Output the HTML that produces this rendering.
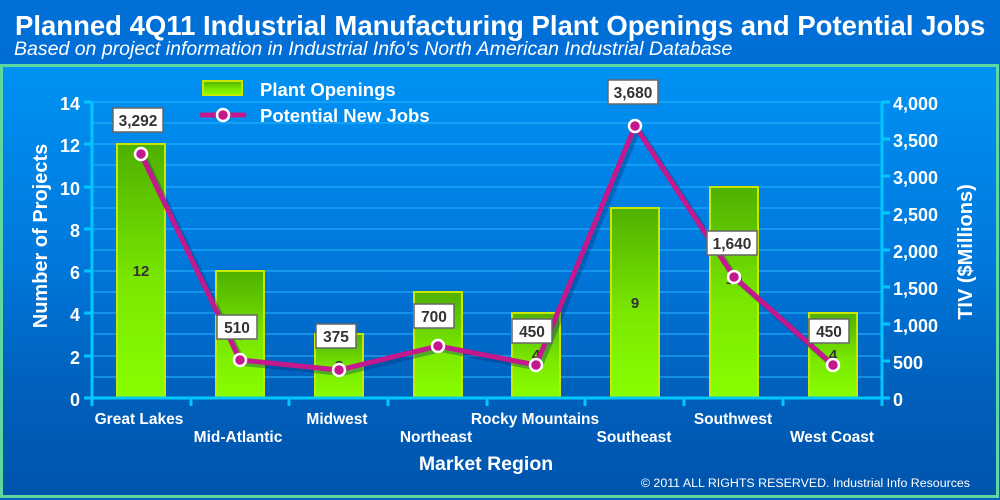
<!DOCTYPE html>
<html><head><meta charset="utf-8"><style>
html,body{margin:0;padding:0;width:1000px;height:500px;overflow:hidden;background:#0058b0}
svg{display:block;font-family:"Liberation Sans",Arial,sans-serif}
</style></head><body>
<svg width="1000" height="500" viewBox="0 0 1000 500" xmlns="http://www.w3.org/2000/svg">
<defs>
<linearGradient id="hd" x1="0" y1="0" x2="0" y2="1"><stop offset="0" stop-color="#0070d8"/><stop offset="1" stop-color="#0060c4"/></linearGradient>
<linearGradient id="bg" x1="0" y1="0" x2="0" y2="1"><stop offset="0" stop-color="#0092f4"/><stop offset="0.45" stop-color="#0078dc"/><stop offset="0.75" stop-color="#0060bc"/><stop offset="1" stop-color="#0054ac"/></linearGradient>
<linearGradient id="bar" x1="0" y1="0" x2="0" y2="1"><stop offset="0" stop-color="#4fb000"/><stop offset="0.55" stop-color="#7ae800"/><stop offset="1" stop-color="#88ff00"/></linearGradient>
</defs>
<rect width="1000" height="500" fill="url(#hd)"/>
<rect x="1.5" y="65.5" width="996" height="431" fill="url(#bg)" stroke="#5fd8a0" stroke-width="3"/>
<text x="15" y="35" font-size="27.5" font-weight="bold" fill="#fff">Planned 4Q11 Industrial Manufacturing Plant Openings and Potential Jobs</text>
<text x="14" y="55" font-size="19.5" font-style="italic" fill="#fff">Based on project information in Industrial Info's North American Industrial Database</text>
<g stroke="#29b8ff" stroke-width="1.3" opacity="0.8">
<line x1="92" x2="882" y1="102" y2="102"/><line x1="92" x2="882" y1="123" y2="123"/><line x1="92" x2="882" y1="144" y2="144"/><line x1="92" x2="882" y1="165" y2="165"/><line x1="92" x2="882" y1="187" y2="187"/><line x1="92" x2="882" y1="208" y2="208"/><line x1="92" x2="882" y1="229" y2="229"/><line x1="92" x2="882" y1="250" y2="250"/><line x1="92" x2="882" y1="271" y2="271"/><line x1="92" x2="882" y1="292" y2="292"/><line x1="92" x2="882" y1="313" y2="313"/><line x1="92" x2="882" y1="334" y2="334"/><line x1="92" x2="882" y1="356" y2="356"/><line x1="92" x2="882" y1="377" y2="377"/>
</g>
<g fill="url(#bar)" stroke="#c8e800" stroke-width="2">
<rect x="117" y="144" width="48" height="254"/>
<rect x="216" y="271" width="48" height="127"/>
<rect x="315" y="334" width="48" height="64"/>
<rect x="414" y="292" width="48" height="106"/>
<rect x="512" y="313" width="48" height="85"/>
<rect x="611" y="208" width="48" height="190"/>
<rect x="710" y="187" width="48" height="211"/>
<rect x="809" y="313" width="48" height="85"/>
</g>
<g font-size="15" font-weight="bold" fill="#333" text-anchor="middle">
<text x="141" y="276">12</text><text x="240" y="340">6</text><text x="339" y="371">3</text><text x="438" y="350">5</text><text x="536" y="360">4</text><text x="635" y="308">9</text><text x="734" y="284">10</text><text x="833" y="360">4</text>
</g>
<g stroke="#00c8ff" stroke-width="3" fill="none">
<line x1="92" y1="102" x2="92" y2="406"/><line x1="882" y1="102" x2="882" y2="406"/><line x1="84" y1="398" x2="890" y2="398"/>
</g>
<g stroke="#00c8ff" stroke-width="3">
<line x1="84" x2="92" y1="102" y2="102"/><line x1="84" x2="92" y1="144" y2="144"/><line x1="84" x2="92" y1="187" y2="187"/><line x1="84" x2="92" y1="229" y2="229"/><line x1="84" x2="92" y1="271" y2="271"/><line x1="84" x2="92" y1="313" y2="313"/><line x1="84" x2="92" y1="356" y2="356"/>
<line x1="882" x2="890" y1="102" y2="102"/><line x1="882" x2="890" y1="139" y2="139"/><line x1="882" x2="890" y1="176" y2="176"/><line x1="882" x2="890" y1="213" y2="213"/><line x1="882" x2="890" y1="250" y2="250"/><line x1="882" x2="890" y1="287" y2="287"/><line x1="882" x2="890" y1="324" y2="324"/><line x1="882" x2="890" y1="361" y2="361"/>
<line x1="191" x2="191" y1="398" y2="406"/><line x1="289" x2="289" y1="398" y2="406"/><line x1="388" x2="388" y1="398" y2="406"/><line x1="487" x2="487" y1="398" y2="406"/><line x1="585" x2="585" y1="398" y2="406"/><line x1="684" x2="684" y1="398" y2="406"/><line x1="783" x2="783" y1="398" y2="406"/>
</g>
<g font-size="18" font-weight="bold" fill="#fff" text-anchor="end">
<text x="80" y="110">14</text><text x="80" y="152">12</text><text x="80" y="195">10</text><text x="80" y="237">8</text><text x="80" y="279">6</text><text x="80" y="321">4</text><text x="80" y="364">2</text><text x="80" y="406">0</text>
</g>
<g font-size="18" font-weight="bold" fill="#fff">
<text x="893" y="110">4,000</text><text x="893" y="147">3,500</text><text x="893" y="184">3,000</text><text x="893" y="221">2,500</text><text x="893" y="258">2,000</text><text x="893" y="295">1,500</text><text x="893" y="332">1,000</text><text x="893" y="369">500</text><text x="893" y="406">0</text>
</g>
<g font-size="15.5" font-weight="bold" fill="#fff" text-anchor="middle">
<text x="139" y="424">Great Lakes</text><text x="238" y="442">Mid-Atlantic</text><text x="337" y="424">Midwest</text><text x="436" y="442">Northeast</text><text x="535" y="424">Rocky Mountains</text><text x="634" y="442">Southeast</text><text x="733" y="424">Southwest</text><text x="832" y="442">West Coast</text>
</g>
<text x="486" y="470" font-size="19.5" font-weight="bold" fill="#fff" text-anchor="middle">Market Region</text>
<text transform="translate(47,236) rotate(-90)" font-size="20" font-weight="bold" fill="#fff" text-anchor="middle">Number of Projects</text>
<text transform="translate(972,252) rotate(-90)" font-size="20" font-weight="bold" fill="#fff" text-anchor="middle">TIV ($Millions)</text>
<text x="970" y="487" font-size="12.4" fill="#fff" text-anchor="end">© 2011 ALL RIGHTS RESERVED. Industrial Info Resources</text>
<polyline points="141,154 240,360 339,370 438,346 536,365 635,126 734,277 833,365" fill="none" stroke="#003070" stroke-opacity="0.35" stroke-width="6" transform="translate(3,3)"/>
<polyline points="141,154 240,360 339,370 438,346 536,365 635,126 734,277 833,365" fill="none" stroke="#c4188c" stroke-width="5" stroke-linejoin="round"/>
<g fill="#c4188c" stroke="#fff" stroke-width="2.5">
<circle cx="141" cy="154" r="6"/><circle cx="240" cy="360" r="6"/><circle cx="339" cy="370" r="6"/><circle cx="438" cy="346" r="6"/><circle cx="536" cy="365" r="6"/><circle cx="635" cy="126" r="6"/><circle cx="734" cy="277" r="6"/><circle cx="833" cy="365" r="6"/>
</g>
<g fill="#fff" stroke="#666" stroke-width="1.5">
<rect x="113" y="108" width="50" height="24"/><rect x="217" y="315" width="40" height="24"/><rect x="316" y="324" width="40" height="24"/><rect x="414" y="304" width="40" height="24"/><rect x="512" y="319" width="40" height="24"/><rect x="608" y="80" width="50" height="24"/><rect x="707" y="231" width="50" height="24"/><rect x="809" y="319" width="40" height="24"/>
</g>
<g font-size="15.5" font-weight="bold" fill="#333" text-anchor="middle">
<text x="138" y="126">3,292</text><text x="237" y="333">510</text><text x="336" y="342">375</text><text x="434" y="322">700</text><text x="532" y="337">450</text><text x="633" y="98">3,680</text><text x="732" y="249">1,640</text><text x="829" y="337">450</text>
</g>
<rect x="203" y="81" width="39" height="14" fill="url(#bar)" stroke="#c8e800" stroke-width="2"/>
<line x1="202" y1="115" x2="244" y2="115" stroke="#c4188c" stroke-width="5" stroke-linecap="round"/>
<circle cx="223" cy="115" r="6" fill="#c4188c" stroke="#fff" stroke-width="2.5"/>
<g font-size="18.5" font-weight="bold" fill="#fff"><text x="260" y="96">Plant Openings</text><text x="260" y="122">Potential New Jobs</text></g>
</svg>
</body></html>
